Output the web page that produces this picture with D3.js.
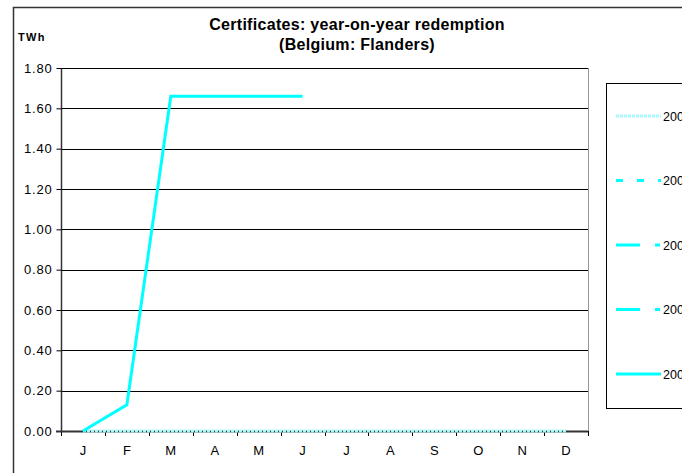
<!DOCTYPE html>
<html>
<head>
<meta charset="utf-8">
<script src="https://cdn.jsdelivr.net/npm/d3@7"></script>
<style>
body { margin: 0; background: #fff; }
svg { display: block; font-family: "Liberation Sans", Arial, sans-serif; }
</style>
</head>
<body>
<svg id="chart" width="682" height="473"></svg>
<script>
const months = ["J","F","M","A","M","J","J","A","S","O","N","D"];
const yTicks = [0, 0.2, 0.4, 0.6, 0.8, 1.0, 1.2, 1.4, 1.6, 1.8];
const seriesNames = ["2004", "2005", "2006", "2007", "2008"];
const s2004 = [0, 0, 0, 0, 0, 0, 0, 0, 0, 0, 0, 0];
const s2005 = [null, null, null, null, null, null, null, null, null, null, null, null];
const s2006 = [null, null, null, null, null, null, null, null, null, null, null, null];
const s2007 = [null, null, null, null, null, null, null, null, null, null, null, null];
const s2008 = [0, 0.13, 1.66, 1.66, 1.66, 1.66, null, null, null, null, null, null];
const seriesValues = [s2004, s2005, s2006, s2007, s2008];

const styles = [
  { color: "#a8fbfb", dash: "3,1" },
  { color: "#00ffff", dash: "7,14" },
  { color: "#00ffff", dash: "24,15,5,15" },
  { color: "#00ffff", dash: "24,15,5,15,5,15" },
  { color: "#00ffff", dash: null }
];

const FONT = "Liberation Sans, Arial, sans-serif";
const svg = d3.select("#chart");
const L = 61, R = 588, T = 68, B = 431;

// outer chart border
svg.append("rect").attr("x", 13.5).attr("y", 7.5).attr("width", 700).attr("height", 500)
  .attr("fill", "none").attr("stroke", "#333").attr("stroke-width", 1.5);

const x = d3.scaleBand().domain(d3.range(12)).range([L, R]);
const y = d3.scaleLinear().domain([0, 1.8]).range([B, T]);

// gridlines
svg.append("g").selectAll("line").data(yTicks.filter(d => d > 0)).join("line")
  .attr("x1", L).attr("x2", R)
  .attr("y1", d => Math.round(y(d)) + 0.5).attr("y2", d => Math.round(y(d)) + 0.5)
  .attr("stroke", "#000").attr("stroke-width", 1);

// right border of plot
svg.append("line").attr("x1", R + 0.5).attr("x2", R + 0.5).attr("y1", T).attr("y2", B)
  .attr("stroke", "#999").attr("stroke-width", 1);

// y axis
const yAxis = d3.axisLeft(y).tickValues(yTicks).tickFormat(d3.format(".2f")).tickSize(5).tickPadding(5);
const gy = svg.append("g").attr("transform", `translate(${L + 0.5},0)`).call(yAxis);
gy.select(".domain").attr("stroke", "#333").attr("stroke-width", 1.5).attr("d", `M0,${T}V${B}`);
gy.selectAll(".tick line").attr("stroke", "#000");
gy.selectAll(".tick text").attr("font-size", 13).attr("letter-spacing", 0.8)
  .attr("fill", "#000").attr("font-family", FONT).attr("dx", 1);

// x axis
const xAxis = d3.axisBottom(x).tickFormat(i => months[i]).tickSize(0).tickPadding(15);
const gx = svg.append("g").attr("transform", `translate(0,${B})`).call(xAxis);
gx.select(".domain").remove();
gx.selectAll(".tick text").attr("font-size", 13).attr("fill", "#000").attr("font-family", FONT);
// x tick marks at band boundaries
svg.append("g").selectAll("line").data(d3.range(13)).join("line")
  .attr("x1", i => Math.round(L + i * x.step()) + 0.5).attr("x2", i => Math.round(L + i * x.step()) + 0.5)
  .attr("y1", B).attr("y2", B + 5).attr("stroke", "#000");
svg.append("line").attr("x1", L - 5).attr("x2", R).attr("y1", B + 0.5).attr("y2", B + 0.5)
  .attr("stroke", "#333").attr("stroke-width", 2);

// lines
const line = d3.line()
  .defined(d => d != null)
  .x((d, i) => x(i) + x.bandwidth() / 2)
  .y(d => y(d));
seriesValues.forEach((vals, k) => {
  svg.append("path").datum(vals)
    .attr("d", line)
    .attr("fill", "none")
    .attr("stroke", styles[k].color)
    .attr("stroke-width", 3)
    .attr("stroke-dasharray", styles[k].dash)
    .attr("stroke-linejoin", "miter");
});

// titles
svg.append("text").attr("x", 357).attr("y", 30).attr("text-anchor", "middle")
  .attr("font-weight", "bold").attr("font-size", 16).attr("letter-spacing", 0.3)
  .text("Certificates: year-on-year redemption");
svg.append("text").attr("x", 357).attr("y", 50).attr("text-anchor", "middle")
  .attr("font-weight", "bold").attr("font-size", 16).attr("letter-spacing", 0.3)
  .text("(Belgium: Flanders)");
svg.append("text").attr("x", 18).attr("y", 41)
  .attr("font-weight", "bold").attr("font-size", 11).attr("letter-spacing", 1.3).text("TWh");

// legend
const lg = svg.append("g");
lg.append("rect").attr("x", 606.5).attr("y", 83.5).attr("width", 100).attr("height", 325)
  .attr("fill", "#fff").attr("stroke", "#000").attr("stroke-width", 1);
const legY = d3.scalePoint().domain(seriesNames).range([116, 374]);
seriesNames.forEach((name, k) => {
  const yy = legY(name);
  lg.append("line").attr("x1", 616).attr("x2", 661).attr("y1", yy).attr("y2", yy)
    .attr("stroke", styles[k].color).attr("stroke-width", 3)
    .attr("stroke-dasharray", styles[k].dash);
  lg.append("text").attr("x", 663).attr("y", yy + 4.5).attr("font-size", 12.5).text(name);
});
</script>
</body>
</html>
